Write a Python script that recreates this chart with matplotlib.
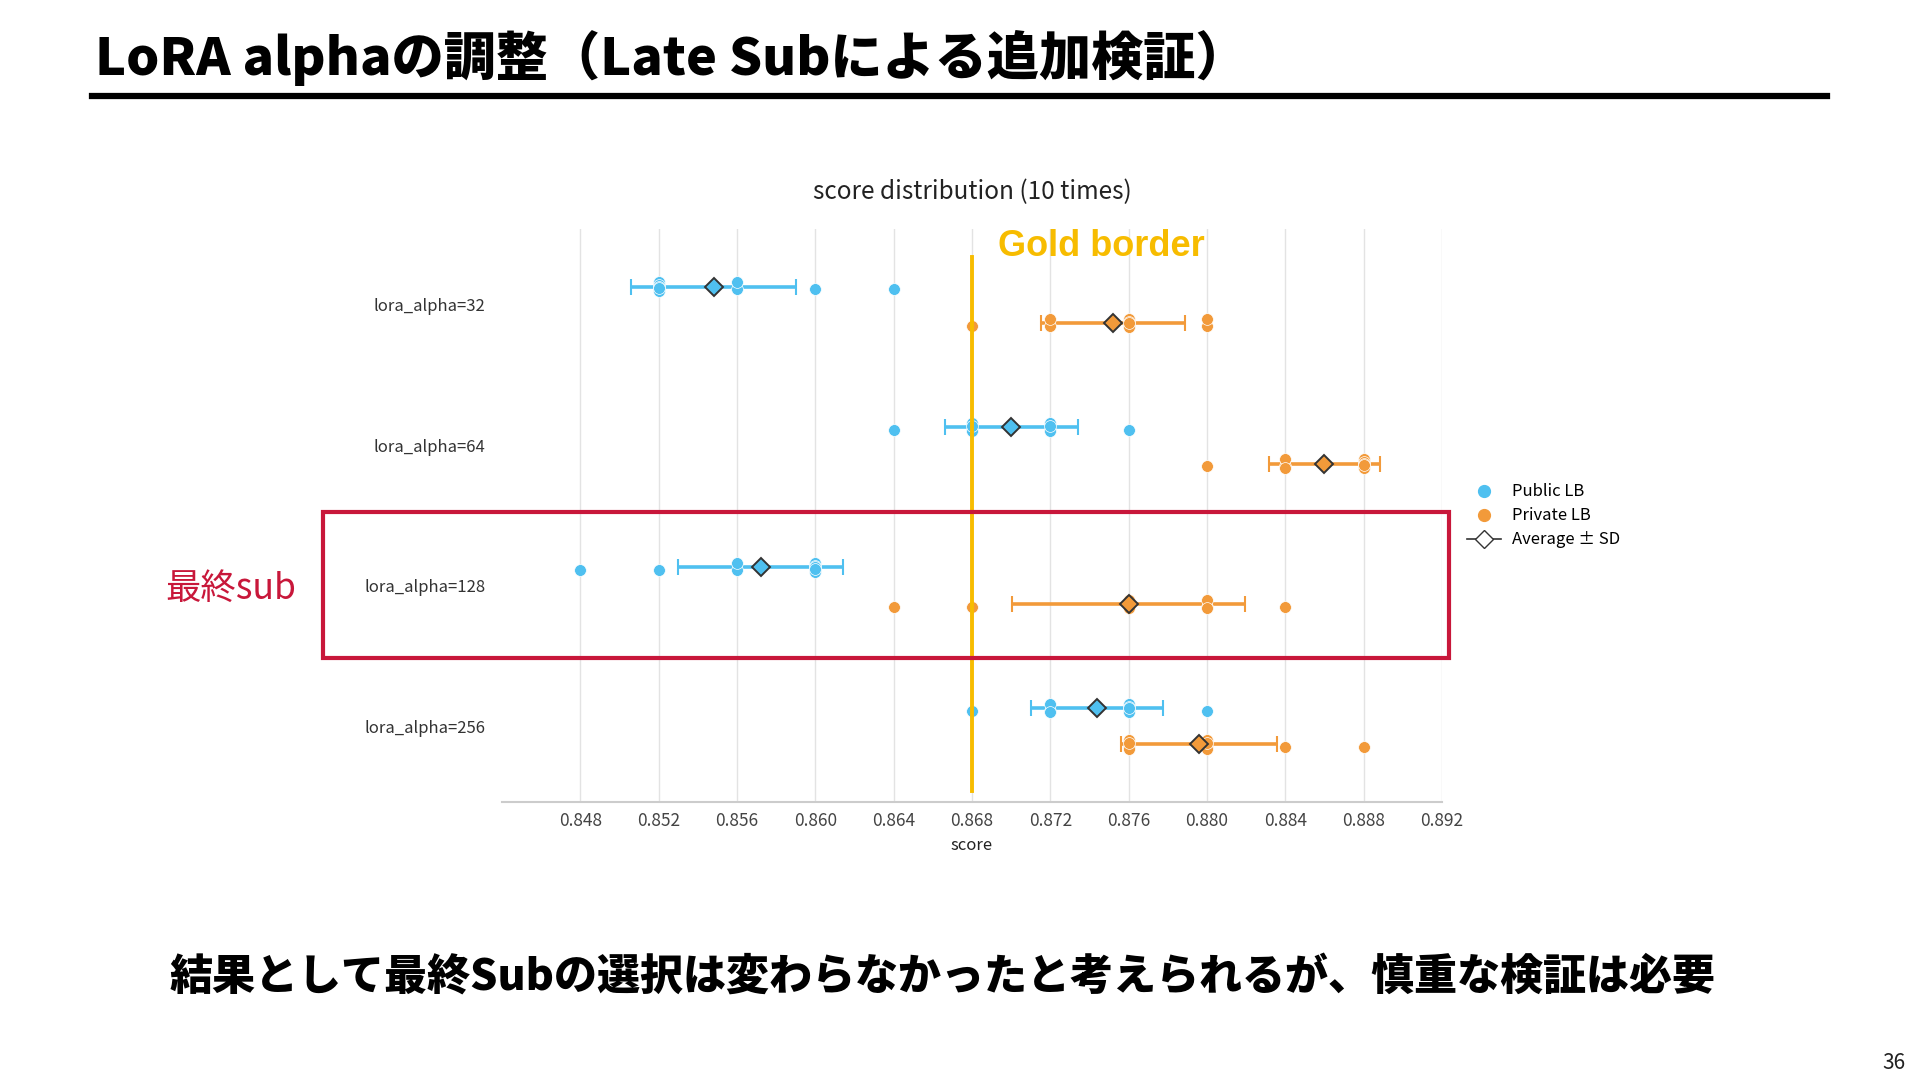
import numpy as np
import matplotlib
matplotlib.use('Agg')
import matplotlib.pyplot as plt
from matplotlib.lines import Line2D
from matplotlib.patches import Rectangle

plt.rcParams['font.family'] = ['Noto Sans CJK JP', 'DejaVu Sans']

# Data (10 runs per setting)
categories = ['lora_alpha=32', 'lora_alpha=64', 'lora_alpha=128', 'lora_alpha=256']
public_scores = [
    [0.852, 0.852, 0.852, 0.852, 0.852, 0.852, 0.856, 0.856, 0.860, 0.864],
    [0.864, 0.868, 0.868, 0.868, 0.868, 0.872, 0.872, 0.872, 0.872, 0.876],
    [0.848, 0.852, 0.856, 0.856, 0.860, 0.860, 0.860, 0.860, 0.860, 0.860],
    [0.868, 0.872, 0.872, 0.872, 0.876, 0.876, 0.876, 0.876, 0.876, 0.880],
]
private_scores = [
    [0.868, 0.872, 0.872, 0.876, 0.876, 0.876, 0.876, 0.876, 0.880, 0.880],
    [0.880, 0.884, 0.884, 0.884, 0.888, 0.888, 0.888, 0.888, 0.888, 0.888],
    [0.864, 0.868, 0.876, 0.876, 0.876, 0.876, 0.880, 0.880, 0.880, 0.884],
    [0.876, 0.876, 0.876, 0.876, 0.880, 0.880, 0.880, 0.880, 0.884, 0.888],
]
x_ticks = [0.848, 0.852, 0.856, 0.860, 0.864, 0.868, 0.872, 0.876, 0.880, 0.884, 0.888, 0.892]
gold_border = 0.868

BLUE = '#4FC0F0'
ORANGE = '#F29A3A'
GOLD = '#F7BC00'
RED = '#C8173A'

W, H = 1920, 1080
fig = plt.figure(figsize=(19.2, 10.8), dpi=100)


def fx(px):
    return px / W


def fy(py):
    return 1 - py / H


# slide title + rule
fig.text(fx(95), fy(58), 'LoRA alphaの調整（Late Subによる追加検証）', fontsize=37.5,
         fontweight='heavy', ha='left', va='center', color='black')
fig.add_artist(Line2D([fx(92), fx(1827)], [fy(96), fy(96)], color='black', lw=4.5,
                      transform=fig.transFigure))

# chart
ax = fig.add_axes([fx(502), fy(802), fx(940), (802 - 229) / H])
ax.set_xlim(0.844, 0.892)
ax.set_ylim(len(categories) - 0.46, -0.54)

jit = [0.02, -0.03, 0.03, -0.01, 0.0, 0.01, -0.02, 0.025, -0.025, 0.015]


def draw_series(scores, offset, color):
    for i, vals in enumerate(scores):
        seen = {}
        ys = []
        for v in vals:
            k = seen.get(v, 0)
            seen[v] = k + 1
            ys.append(i + offset + jit[k])
        ax.scatter(vals, ys, s=72, color=color, edgecolor='white', linewidth=0.5, zorder=3)
        m = np.mean(vals)
        sd = np.std(vals, ddof=1)
        ax.errorbar(m, i + offset, xerr=sd, color=color, lw=2.6, capsize=6, capthick=1.5,
                    zorder=2)
        ax.plot(m, i + offset, marker='D', ms=9, mfc=color, mec='#333333', mew=1.4, zorder=4)


draw_series(public_scores, -0.13, BLUE)
draw_series(private_scores, 0.13, ORANGE)

ax.plot([gold_border, gold_border], [-0.34, 3.46], color=GOLD, lw=2.8, zorder=5)

ax.set_xticks(x_ticks)
ax.set_xticklabels([f'{t:.3f}' for t in x_ticks], fontsize=12.5, color='#444444')
ax.set_yticks(range(len(categories)))
ax.set_yticklabels(categories, fontsize=12, color='#333333')
ax.tick_params(axis='x', length=0, pad=7)
ax.tick_params(axis='y', length=0, pad=12)
ax.grid(axis='x', color='#e3e3e3', lw=1)
ax.set_axisbelow(True)
for s in ['top', 'right', 'left']:
    ax.spines[s].set_visible(False)
ax.spines['bottom'].set_color('#cccccc')
ax.spines['bottom'].set_linewidth(1.5)
ax.set_xlabel('score', fontsize=12, color='#222222', labelpad=5)

fig.text(fx(972), fy(192), 'score distribution (10 times)', fontsize=17.5, ha='center',
         va='center', color='#222222')
fig.text(fx(998), fy(246), 'Gold border', fontsize=26, fontweight='bold', ha='left',
         va='center', color=GOLD, family=['Liberation Sans', 'DejaVu Sans'])

handles = [
    Line2D([], [], ls='none', marker='o', ms=8.5, color=BLUE),
    Line2D([], [], ls='none', marker='o', ms=8.5, color=ORANGE),
    Line2D([], [], color='#333333', lw=1.2, marker='D', ms=9, mfc='white', mec='#333333'),
]
fig.legend(handles, ['Public LB', 'Private LB', 'Average ± SD'], loc='upper left',
           bbox_to_anchor=(fx(1459), fy(475)), frameon=False, fontsize=12,
           handlelength=2.0, handletextpad=0.7, labelspacing=0.42, borderpad=0)

# highlight box for final submission
fig.add_artist(Rectangle((fx(323), fy(658)), fx(1449 - 323), (658 - 512) / H, fill=False,
                         edgecolor=RED, lw=3, transform=fig.transFigure))
fig.text(fx(165), fy(589), '最終sub', fontsize=25.5, ha='left', va='center', color=RED)

fig.text(fx(943), fy(977), '結果として最終Subの選択は変わらなかったと考えられるが、慎重な検証は必要',
         fontsize=31, fontweight='heavy', ha='center', va='center', color='black')
fig.text(fx(1905), fy(1063), '36', fontsize=15, ha='right', va='center', color='#222222')

fig.savefig('out.png', dpi=100)
